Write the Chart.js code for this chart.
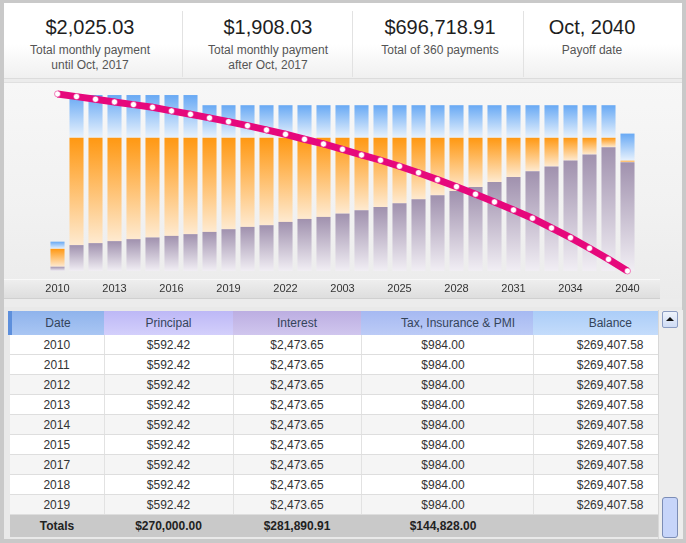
<!DOCTYPE html>
<html>
<head>
<meta charset="utf-8">
<script src="https://cdn.jsdelivr.net/npm/chart.js@4.4.1/dist/chart.umd.min.js"></script>
<style>
  html, body { margin: 0; padding: 0; }
  body {
    width: 686px; height: 543px; position: relative; overflow: hidden;
    background: #c9c9c9; font-family: "Liberation Sans", Arial, sans-serif;
  }
  .frame { position: absolute; left: 4px; top: 3px; width: 678px; height: 536px; background: #ececec; }
  .header {
    position: absolute; left: 4px; top: 3px; width: 678px; height: 75px;
    background: linear-gradient(to bottom, #ffffff 0%, #ffffff 55%, #f0f0f0 100%);
    border-bottom: 1px solid #dcdcdc;
  }
  .sep { position: absolute; top: 8px; width: 1px; height: 66px; background: #e2e2e2; }
  .stat { position: absolute; top: 0; width: 170px; text-align: center; }
  .stat .big { margin-top: 15px; font-size: 20px; color: #1e1e1e; line-height: 24px; }
  .stat .sub { margin-top: 4px; font-size: 12px; color: #555; line-height: 15px; }
  .panel {
    position: absolute; left: 4px; top: 82px; width: 678px; height: 216px;
    background: linear-gradient(to bottom, #f7f7f7 0%, #f1f1f1 60%, #ebebeb 100%);
    border-top: 1px solid #e0e0e0;
  }
  .band {
    position: absolute; left: 4px; top: 279px; width: 656px; height: 18px;
    background: linear-gradient(to bottom, #eeeeee, #dedede);
    border-top: 1px solid #f8f8f8; border-bottom: 1px solid #d0d0d0;
  }
  #chartBox { position: absolute; left: 4px; top: 82px; width: 678px; height: 216px; }
  .tablewrap { position: absolute; left: 4px; top: 307px; width: 678px; height: 232px; background: #e9e9e9; }
  table {
    position: absolute; left: 8px; top: 311px; width: 648px; border-collapse: collapse;
    table-layout: fixed; font-size: 12px; color: #333;
  }
  th { height: 24px; padding: 0; font-weight: normal; color: #34445a; }
  td { height: 19px; padding: 0; border-bottom: 1px solid #dedede; border-right: 1px solid #e2e2e2; }
  tr.odd td { background: #ffffff; }
  tr.even td { background: #f5f5f5; }
  tr.totals td { background: #c9c9c9; font-weight: bold; color: #222; height: 22px; border: none; }
  .c { text-align: center; }
  .r { text-align: right; padding-right: 14px; }
  .scroll { position: absolute; left: 658px; top: 310px; width: 24px; height: 229px; background: #ededed; border-left: 1px solid #d8d8d8; }
  .upbtn {
    position: absolute; left: 662px; top: 311px; width: 14px; height: 15px;
    background: linear-gradient(to bottom, #eef3fc, #cfdcf4); border: 1px solid #8b9cc2; border-radius: 2px;
  }
  .upbtn:after {
    content: ""; position: absolute; left: 3px; top: 5px;
    border-left: 4px solid transparent; border-right: 4px solid transparent; border-bottom: 4px solid #111;
  }
  .thumb {
    position: absolute; left: 662px; top: 497px; width: 14px; height: 39px;
    background: #c7d5fa; border: 1px solid #7c8db6; border-radius: 3px;
  }
</style>
</head>
<body>
<div class="frame"></div>
<div class="header">
  <div class="sep" style="left:178px"></div>
  <div class="sep" style="left:348px"></div>
  <div class="sep" style="left:519px"></div>
</div>
<div id="stats"></div>
<div class="panel"></div>
<div class="band"></div>
<div id="chartBox"><canvas id="loanChart"></canvas></div>
<div class="tablewrap"></div>
<table id="schedule">
  <colgroup><col style="width:94px"><col style="width:129px"><col style="width:128px"><col style="width:172px"><col style="width:125px"></colgroup>
  <thead>
    <tr>
      <th style="background:linear-gradient(to bottom,#8fb3ec,#a9c6f3);border-left:4px solid #5d8fdc">Date</th>
      <th style="background:linear-gradient(to bottom,#bdb8f6,#d3cffb)">Principal</th>
      <th style="background:linear-gradient(to bottom,#bcaee2,#d0c6ee)">Interest</th>
      <th style="background:linear-gradient(to bottom,#a6b9f2,#bccbf6);padding-left:22px">Tax, Insurance &amp; PMI</th>
      <th style="background:linear-gradient(to bottom,#abcdf8,#c4dcfb);text-align:right;padding-right:26px">Balance</th>
    </tr>
  </thead>
  <tbody id="rows"></tbody>
</table>
<div class="scroll"></div>
<div class="upbtn"></div>
<div class="thumb"></div>

<script>
const stats = [
  { value: "$2,025.03", label: "Total monthly payment<br>until Oct, 2017", center: 90 },
  { value: "$1,908.03", label: "Total monthly payment<br>after Oct, 2017", center: 268 },
  { value: "$696,718.91", label: "Total of 360 payments", center: 440 },
  { value: "Oct, 2040", label: "Payoff date", center: 592 },
];

const years = [
  "2010", "2011", "2012", "2013", "2014", "2015", "2016", "2017", "2018", "2019",
  "2020", "2021", "2022", "2023", "2024", "2025", "2026", "2027", "2028", "2029",
  "2030", "2031", "2032", "2033", "2034", "2035", "2036", "2037", "2038", "2039", "2040",
];
const tickLabels = ["2010", "2013", "2016", "2019", "2022", "2003", "2025", "2028", "2031", "2034", "2040"];

const principal = [
  592, 3575, 3850, 4125, 4400, 4630, 4850, 5090, 5400, 5775,
  6090, 6325, 6780, 7190, 7470, 7930, 8390, 8840, 9350, 9900,
  10450, 11040, 11590, 12280, 12970, 13790, 14440, 15260, 16090, 17090, 15030,
];
const interest = [
  2474, 14825, 14550, 14275, 14000, 13770, 13550, 13310, 13000, 12625,
  12310, 12075, 11620, 11210, 10930, 10470, 10010, 9560, 9050, 8500,
  7950, 7360, 6810, 6120, 5430, 4610, 3960, 3140, 2310, 1310, 200,
];
const escrow = [
  984, 5904, 5904, 5904, 5904, 5904, 5904, 5904, 4500, 4500,
  4500, 4500, 4500, 4500, 4500, 4500, 4500, 4500, 4500, 4500,
  4500, 4500, 4500, 4500, 4500, 4500, 4500, 4500, 4500, 4500, 3750,
];
const balance = [
  270000, 265900, 261900, 257800, 253700, 249700, 244100, 239000, 233400, 227700,
  221600, 215100, 208500, 200900, 193700, 185600, 176900, 168900, 159700, 149900,
  139300, 128600, 117200, 105300, 93100, 80400, 65600, 50800, 34600, 17800, 0,
];

const tableYears = ["2010", "2011", "2012", "2013", "2014", "2015", "2017", "2018", "2019"];
const tablePrincipal = "$592.42";
const tableInterest = "$2,473.65";
const tableTax = "$984.00";
const tableBalance = "$269,407.58";
const totals = ["Totals", "$270,000.00", "$281,890.91", "$144,828.00", ""];

function buildStats() {
  const box = document.getElementById("stats");
  stats.forEach((s) => {
    const el = document.createElement("div");
    el.className = "stat";
    el.style.left = (s.center - 85) + "px";
    el.innerHTML = `<div class="big">${s.value}</div><div class="sub">${s.label}</div>`;
    box.appendChild(el);
  });
}

function buildTable() {
  const body = document.getElementById("rows");
  tableYears.forEach((y, i) => {
    const tr = document.createElement("tr");
    tr.className = i < 2 ? "odd" : (i % 2 === 0 ? "even" : "odd");
    tr.innerHTML = `
      <td class="c">${y}</td>
      <td class="c">${tablePrincipal}</td>
      <td class="c">${tableInterest}</td>
      <td class="c" style="padding-right:8px">${tableTax}</td>
      <td class="r">${tableBalance}</td>`;
    body.appendChild(tr);
  });
  const tr = document.createElement("tr");
  tr.className = "totals";
  tr.innerHTML = totals.map((t, i) => `<td class="c"${i === 3 ? ' style="padding-right:8px"' : ""}>${t}</td>`).join("");
  body.appendChild(tr);
}

// vertical gradient for one stacked segment, from its own top to its own bottom
function segmentFill(level, topColor, bottomColor) {
  return (c) => {
    const chart = c.chart;
    const i = c.dataIndex;
    const y = chart.scales.y;
    if (i === undefined || !y || !chart.chartArea) return topColor;
    const parts = [principal[i], interest[i], escrow[i]];
    let lo = 0;
    for (let k = 0; k < level; k++) lo += parts[k];
    const hi = lo + parts[level];
    const y0 = y.getPixelForValue(hi);
    const y1 = y.getPixelForValue(lo);
    if (!isFinite(y0) || !isFinite(y1) || y1 - y0 < 0.5) return topColor;
    const g = chart.ctx.createLinearGradient(0, y0, 0, y1);
    g.addColorStop(0, topColor);
    g.addColorStop(1, bottomColor);
    return g;
  };
}

const barShadow = {
  id: "barShadow",
  beforeDatasetsDraw(chart) {
    const ctx = chart.ctx;
    const bottom = chart.getDatasetMeta(0).data;
    const top = chart.getDatasetMeta(2).data;
    ctx.save();
    top.forEach((bar, i) => {
      const w = bar.width;
      const h = bottom[i].base - bar.y;
      ctx.fillStyle = "rgba(0,0,0,0.09)";
      ctx.fillRect(bar.x - w / 2 - 1, bar.y - 1, w + 3.5, h + 1);
      ctx.fillStyle = "rgba(255,255,255,0.8)";
      ctx.fillRect(bar.x - w / 2 - 1, bar.y - 1, 1, h + 1);
    });
    ctx.restore();
  },
};

function initChart() {
  const ctx = document.getElementById("loanChart").getContext("2d");
  new Chart(ctx, {
    type: "bar",
    data: {
      labels: years,
      datasets: [
        {
          type: "line",
          label: "Balance",
          data: balance,
          yAxisID: "y2",
          order: 0,
          borderColor: "#e6087c",
          borderWidth: 7,
          tension: 0,
          clip: false,
          pointRadius: 3,
          pointBackgroundColor: "#ffffff",
          pointBorderColor: "#e6087c",
          pointBorderWidth: 0.5,
        },
        {
          label: "Principal",
          data: principal,
          order: 1,
          backgroundColor: segmentFill(0, "#a091ae", "#f1eef4"),
        },
        {
          label: "Interest",
          data: interest,
          order: 1,
          backgroundColor: segmentFill(1, "#ff9812", "#feead0"),
        },
        {
          label: "Tax, Insurance & PMI",
          data: escrow,
          order: 1,
          backgroundColor: segmentFill(2, "#68a9f4", "#e8f2fd"),
        },
      ],
    },
    options: {
      responsive: false,
      animation: false,
      layout: { padding: { left: 44, right: 45, top: 8, bottom: 3 } },
      datasets: {
        bar: { barPercentage: 0.74, categoryPercentage: 1.0, borderWidth: 0 },
      },
      scales: {
        x: {
          stacked: true,
          offset: true,
          grid: { display: false, drawTicks: false },
          border: { display: false },
          afterFit(scale) {
            scale.height = 24;
          },
          ticks: {
            autoSkip: false,
            maxRotation: 0,
            padding: 11,
            color: "#333333",
            font: { family: "Liberation Sans", size: 11 },
            callback(value, index) {
              return index % 3 === 0 ? tickLabels[index / 3] : "";
            },
          },
        },
        y: { stacked: true, display: false, min: 0, max: 25000 },
        y2: { display: false, min: 0, max: 276000 },
      },
      plugins: {
        legend: { display: false },
        tooltip: { enabled: false },
      },
    },
    plugins: [barShadow],
  });
}

document.addEventListener("DOMContentLoaded", () => {
  const canvas = document.getElementById("loanChart");
  canvas.width = 678;
  canvas.height = 216;
  buildStats();
  buildTable();
  initChart();
});
</script>
</body>
</html>
